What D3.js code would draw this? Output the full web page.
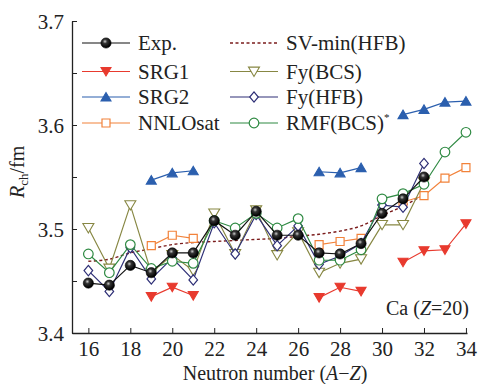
<!DOCTYPE html>
<html>
<head>
<meta charset="utf-8">
<script src="https://cdn.jsdelivr.net/npm/d3@7"></script>
<style>
  body { margin: 0; background: #fff; }
  svg text { font-family: "Liberation Serif", "DejaVu Serif", serif !important; fill: #222; }
</style>
</head>
<body>
<div id="chart"></div>
<script>
var svgWidth = 479;
var svgHeight = 384;

// neutron numbers
var neutrons = [16, 17, 18, 19, 20, 21, 22, 23, 24, 25, 26, 27, 28, 29, 30, 31, 32, 33, 34];

// charge radii (fm), null where there is no point
var expR    = [3.448, 3.446, 3.465, 3.458, 3.477, 3.477, 3.508, 3.494, 3.517, 3.494, 3.494, 3.477, 3.476, 3.486, 3.515, 3.529, 3.550, null, null];
var srg1R   = [null, null, null, 3.435, 3.444, 3.436, null, null, null, null, null, 3.434, 3.444, 3.440, null, 3.468, 3.479, 3.480, 3.505];
var srg2R   = [null, null, null, 3.547, 3.554, 3.556, null, null, null, null, null, 3.555, 3.554, 3.559, null, 3.610, 3.615, 3.622, 3.623];
var nnloR   = [null, null, null, 3.484, 3.494, 3.491, null, null, null, null, null, 3.485, 3.488, 3.491, null, 3.526, 3.532, 3.549, 3.559];
var svminR  = [3.469, 3.471, 3.477, 3.481, 3.485, 3.487, 3.488, 3.489, 3.490, 3.491, 3.493, 3.495, 3.498, 3.503, 3.513, 3.522, 3.533, null, null];
var fyBcsR  = [3.501, 3.462, 3.523, 3.458, 3.475, 3.460, 3.515, 3.476, 3.518, 3.475, 3.497, 3.458, 3.467, 3.471, 3.504, 3.504, 3.545, null, null];
var fyHfbR  = [3.460, 3.440, 3.482, 3.452, 3.472, 3.451, 3.506, 3.476, 3.514, 3.484, 3.503, 3.466, 3.474, 3.486, 3.523, 3.521, 3.563, null, null];
var rmfR    = [3.476, 3.458, 3.485, 3.462, 3.469, 3.467, 3.508, 3.501, 3.515, 3.501, 3.510, 3.470, 3.470, 3.480, 3.529, 3.534, 3.543, 3.574, 3.593];

var yTicks = [3.4, 3.5, 3.6, 3.7];
var xTicks = [16, 18, 20, 22, 24, 26, 28, 30, 32, 34];

var margin = { top: 21, right: 12, bottom: 51, left: 72 };
var width = svgWidth - margin.left - margin.right;
var height = svgHeight - margin.top - margin.bottom;

var svg = d3.select("#chart")
    .append("svg")
    .attr("width", svgWidth)
    .attr("height", svgHeight);

var defs = svg.append("defs");
var grad = defs.append("radialGradient")
    .attr("id", "ball")
    .attr("cx", "40%").attr("cy", "35%").attr("r", "60%");
grad.append("stop").attr("offset", "0%").attr("stop-color", "#ccc");
grad.append("stop").attr("offset", "35%").attr("stop-color", "#333");
grad.append("stop").attr("offset", "100%").attr("stop-color", "#000");

var chartGroup = svg.append("g")
    .attr("transform", `translate(${margin.left}, ${margin.top})`);

var xScale = d3.scaleLinear()
    .domain([15.22, 34.05])
    .range([0, width]);

var yScale = d3.scaleLinear()
    .domain([3.4, 3.7])
    .range([height, 0]);

// axes
var bottomAxis = d3.axisBottom(xScale)
    .tickValues(xTicks)
    .tickSizeInner(-5)
    .tickSizeOuter(0)
    .tickPadding(8);

var leftAxis = d3.axisLeft(yScale)
    .tickValues(d3.range(3.4, 3.7001, 0.05))
    .tickSizeInner(-5)
    .tickSizeOuter(0)
    .tickPadding(8)
    .tickFormat(d => yTicks.some(t => Math.abs(t - d) < 1e-6) ? d3.format(".1f")(d) : "");

var xg = chartGroup.append("g")
    .attr("transform", `translate(0,${height})`)
    .call(bottomAxis);
var yg = chartGroup.append("g")
    .call(leftAxis);

[xg, yg].forEach(g => {
    g.attr("font-family", null);
    g.select(".domain").attr("stroke", "#222").attr("stroke-width", 1.3);
    g.selectAll(".tick line").attr("stroke", "#222").attr("stroke-width", 1);
    g.selectAll(".tick text")
        .attr("font-size", "21px")
        .attr("fill", "#222");
});
yg.selectAll(".tick text").attr("dy", "0.35em");

// marker shapes
function downTri(s) { return `M${-s},${-s * 0.8}L${s},${-s * 0.8}L0,${s * 0.9}Z`; }
function upTri(s) { return `M${-s},${s * 0.8}L${s},${s * 0.8}L0,${-s * 0.9}Z`; }
function square(s) { return `M${-s},${-s}L${s},${-s}L${s},${s}L${-s},${s}Z`; }
function diamond(s) { return `M0,${-s * 1.2}L${s},0L0,${s * 1.2}L${-s},0Z`; }

var series = [
    { name: "SV-min(HFB)", vals: svminR, color: "#7b1c1c", dash: "3,2.5", marker: null },
    { name: "SRG1", vals: srg1R, color: "#e83a2e", marker: "down", fill: "#e83a2e" },
    { name: "SRG2", vals: srg2R, color: "#2b5fae", marker: "up", fill: "#2b5fae" },
    { name: "NNLOsat", vals: nnloR, color: "#f2823a", marker: "square", fill: "#fff" },
    { name: "Fy(BCS)", vals: fyBcsR, color: "#878743", marker: "down", fill: "#fff" },
    { name: "Fy(HFB)", vals: fyHfbR, color: "#2e2f76", marker: "diamond", fill: "#fff" },
    { name: "RMF(BCS)", vals: rmfR, color: "#2f8a43", marker: "circle", fill: "#fff" },
    { name: "Exp.", vals: expR, color: "#111", marker: "ball", fill: "url(#ball)" }
];

var line = d3.line()
    .defined(d => d.r !== null)
    .x(d => xScale(d.n))
    .y(d => yScale(d.r));

var smooth = d3.line()
    .defined(d => d.r !== null)
    .curve(d3.curveMonotoneX)
    .x(d => xScale(d.n))
    .y(d => yScale(d.r));

function drawMarker(g, m, color, fill) {
    if (m === "down") {
        g.append("path").attr("d", downTri(fill === "#fff" ? 5.5 : 5)).attr("fill", fill).attr("stroke", color).attr("stroke-width", 1.1);
    } else if (m === "up") {
        g.append("path").attr("d", upTri(5)).attr("fill", fill).attr("stroke", color).attr("stroke-width", 1.1);
    } else if (m === "square") {
        g.append("path").attr("d", square(4)).attr("fill", fill).attr("stroke", color).attr("stroke-width", 1.2);
    } else if (m === "diamond") {
        g.append("path").attr("d", diamond(4.3)).attr("fill", fill).attr("stroke", color).attr("stroke-width", 1.2);
    } else if (m === "circle") {
        g.append("circle").attr("r", 4.8).attr("fill", fill).attr("stroke", color).attr("stroke-width", 1.2);
    } else if (m === "ball") {
        g.append("circle").attr("r", 5.1).attr("fill", fill).attr("stroke", "#000").attr("stroke-width", 0.6);
    }
}

series.forEach(s => {
    var pts = neutrons.map((n, i) => ({ n: n, r: s.vals[i] }));
    chartGroup.append("path")
        .datum(pts)
        .attr("fill", "none")
        .attr("stroke", s.color)
        .attr("stroke-width", s.dash ? 1.4 : 1.15)
        .attr("stroke-dasharray", s.dash || null)
        .attr("d", s.dash ? smooth(pts) : line(pts));
    if (s.marker) {
        pts.filter(d => d.r !== null).forEach(d => {
            var g = chartGroup.append("g").attr("transform", `translate(${xScale(d.n)},${yScale(d.r)})`);
            drawMarker(g, s.marker, s.color, s.fill);
        });
    }
});

// legend
var legendCols = [
    [series[7], series[1], series[2], series[3]],
    [series[0], series[4], series[5], series[6]]
];
var legendX = [10, 158];
var legendY = [22, 50.5, 76, 102];
legendCols.forEach((col, ci) => {
    col.forEach((s, ri) => {
        var g = chartGroup.append("g").attr("transform", `translate(${legendX[ci]},${legendY[ri]})`);
        g.append("line").attr("x1", 0).attr("x2", 48).attr("y1", 0).attr("y2", 0)
            .attr("stroke", s.color).attr("stroke-width", s.dash ? 1.4 : 1.15)
            .attr("stroke-dasharray", s.dash || null);
        if (s.marker) {
            var mg = g.append("g").attr("transform", "translate(24,0)");
            drawMarker(mg, s.marker, s.color, s.fill);
        }
        var t = g.append("text").attr("x", 56).attr("y", 7).attr("font-size", "21px").text(s.name);
        if (s.name === "RMF(BCS)") {
            t.append("tspan").attr("dy", -9).attr("font-size", "11px").text("*");
        }
    });
});

// nucleus label
var caLabel = chartGroup.append("text")
    .attr("x", width + 2)
    .attr("y", yScale(3.417))
    .attr("text-anchor", "end")
    .attr("font-size", "20px");
caLabel.append("tspan").text("Ca (");
caLabel.append("tspan").attr("font-style", "italic").text("Z");
caLabel.append("tspan").text("=20)");

// axis titles
var xTitle = chartGroup.append("text")
    .attr("x", xScale(24.9))
    .attr("y", height + 47)
    .attr("text-anchor", "middle")
    .attr("font-size", "20px");
xTitle.append("tspan").text("Neutron number (");
xTitle.append("tspan").attr("font-style", "italic").text("A");
xTitle.append("tspan").text("\u2212");
xTitle.append("tspan").attr("font-style", "italic").text("Z");
xTitle.append("tspan").text(")");

var yTitle = chartGroup.append("text")
    .attr("transform", "rotate(-90)")
    .attr("x", 0 - yScale(3.555))
    .attr("y", -48)
    .attr("text-anchor", "middle")
    .attr("font-size", "20px");
yTitle.append("tspan").attr("font-style", "italic").text("R");
yTitle.append("tspan").attr("font-size", "13px").attr("dy", 4).text("ch");
yTitle.append("tspan").attr("dy", -4).text("/fm");
</script>
</body>
</html>
